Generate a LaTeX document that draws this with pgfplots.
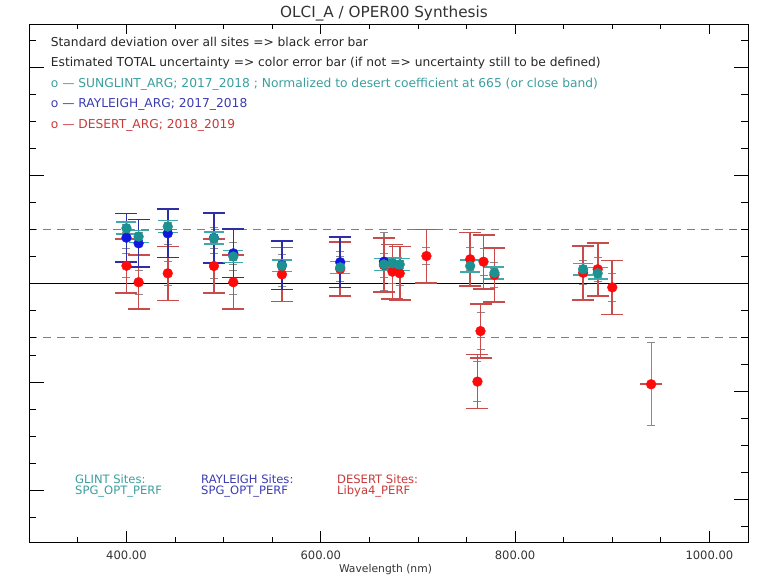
\documentclass[border=0pt]{standalone}
\usepackage{pgfplots}
\usepackage{pgfplotstable}
\pgfplotsset{compat=1.18}
\usepackage{fontspec}
\setmainfont{DejaVu Sans}

\definecolor{glint}{HTML}{1C9191}
\definecolor{glintbar}{HTML}{40A8A8}
\definecolor{glinttxt}{HTML}{3A9E9E}
\definecolor{ray}{HTML}{1018E0}
\definecolor{raybar}{HTML}{2E2EA6}
\definecolor{raytxt}{HTML}{3C3CB0}
\definecolor{des}{HTML}{FF0A0A}
\definecolor{desbar}{HTML}{C84C4C}
\definecolor{destxt}{HTML}{C83A3A}
\definecolor{stdbar}{HTML}{8A8A8A}

% wavelength, value, total uncertainty, std over sites
\pgfplotstableread{
wl val unc std
400 2.04 0.22 0.15
412.5 1.73 0.22 0.15
442.5 2.10 0.22 0.15
490 1.67 0.22 0.15
510 0.99 0.22 0.15
560 0.65 0.22 0.15
620 0.59 0.22 0.15
665 0.70 0.22 0.15
673.75 0.74 0.22 0.15
681.25 0.70 0.22 0.15
753.75 0.64 0.22 0.15
778.75 0.39 0.22 0.15
870 0.52 0.22 0.15
885 0.37 0.22 0.15
}\glinttab

\pgfplotstableread{
wl val unc std
400 1.69 0.90 0.40
412.5 1.48 0.88 0.40
442.5 1.85 0.90 0.40
490 1.68 0.92 0.40
510 1.11 0.90 0.40
560 0.67 0.90 0.40
620 0.78 0.93 0.40
}\raytab

% Rayleigh band without a total uncertainty
\pgfplotstableread{
wl val std
665 0.80 1.07
}\rayextra

\pgfplotstableread{
wl val unc std
400 0.65 1.00 0.45
412.5 0.04 1.00 0.45
442.5 0.37 1.00 0.45
490 0.64 1.00 0.45
510 0.04 1.00 0.45
560 0.33 1.00 0.45
620 0.53 1.00 0.45
665 0.67 1.00 0.45
673.75 0.43 1.01 0.45
681.25 0.37 0.99 0.45
708.75 1.01 0.99 0.33
753.75 0.89 0.99 0.45
761.25 -3.64 1.00 0.73
764.375 -1.77 1.00 0.70
767.5 0.80 1.00 0.50
778.75 0.31 1.00 0.45
870 0.39 1.00 0.45
885 0.52 0.98 0.45
900 -0.15 1.00 0.52
940 -3.74 0.00 1.53
}\destab

\pgfplotsset{
  frame/.style={at={(29.3bp,35bp)}, anchor=south west, scale only axis,
    width=719bp, height=518bp, xmin=300, xmax=1040, ymin=-9.581, ymax=9.604,
    axis line style={black, line width=0.9bp}, tick style={black, line width=0.9bp}},
  bars/.style n args={4}{only marks, mark=none, forget plot,
    error bars/.cd, y dir=both, y explicit,
    error bar style={draw=#1, line width=#2},
    error mark=-,
    error mark options={rotate=90, draw=#1, line width=#3, mark size=#4}},
  dots/.style={only marks, mark=*, mark size=4.9bp, mark options={draw=#1, fill=#1}},
}

\begin{document}
\begin{tikzpicture}[x=1bp, y=1bp]
\path[use as bounding box] (0,0) rectangle (761,577);

\begin{axis}[frame,
  xtick={400,600,800,1000},
  xticklabels={400.00,600.00,800.00,1000.00},
  minor xtick={350,450,500,550,650,700,750,850,900,950},
  ytick=\empty,
  major tick length=10.5bp, minor tick length=5bp,
  xticklabel style={font=\fontsize{11.6}{12}\selectfont, text=black!80, yshift=-5bp},
]
% reference levels
\addplot[black, line width=1bp, forget plot] coordinates {(300,0) (1040,0)};
\addplot[black!50, line width=0.9bp, dash pattern=on 8bp off 6bp, forget plot] coordinates {(300,2) (1040,2)};
\addplot[black!50, line width=0.9bp, dash pattern=on 8bp off 6bp, forget plot] coordinates {(300,-2) (1040,-2)};

% standard deviation over all sites
\addplot[bars={stdbar}{1.2bp}{1bp}{4bp}] table[x=wl, y=val, y error=std] {\destab};
\addplot[bars={stdbar}{1.2bp}{1bp}{4bp}] table[x=wl, y=val, y error=std] {\raytab};
\addplot[bars={stdbar}{1.8bp}{1bp}{4bp}] table[x=wl, y=val, y error=std] {\rayextra};
\addplot[bars={stdbar}{1.2bp}{1bp}{4bp}] table[x=wl, y=val, y error=std] {\glinttab};

% total uncertainty
\addplot[bars={desbar}{1.6bp}{1.6bp}{11bp}] table[x=wl, y=val, y error=unc] {\destab};
\addplot[bars={raybar}{1.5bp}{1.6bp}{11bp}] table[x=wl, y=val, y error=unc] {\raytab};
\addplot[bars={glintbar}{1.5bp}{1.6bp}{10bp}] table[x=wl, y=val, y error=unc] {\glinttab};

% measured points
\addplot[dots=des] table[x=wl, y=val] {\destab};
\addplot[dots=ray] table[x=wl, y=val] {\raytab};
\addplot[dots=ray] table[x=wl, y=val] {\rayextra};
\addplot[dots=glint] table[x=wl, y=val] {\glinttab};
\end{axis}

% left-hand ticks
\begin{axis}[frame, axis line style={draw=none},
  xtick=\empty, ytick pos=left, yticklabels={},
  ytick={8,4,0,-3.67,-7.67},
  minor ytick={9,7,6,5,3,2,1,-1,-2,-2.67,-4.67,-5.67,-6.67,-8.67},
  major tick length=14.7bp, minor tick length=7bp]
\end{axis}

% right-hand ticks
\begin{axis}[frame, axis line style={draw=none},
  xtick=\empty, ytick pos=right, yticklabels={},
  ytick={8,4,0,-4,-8},
  minor ytick={9,7,6,5,3,2,1,-1,-2,-3,-5,-6,-7,-9},
  major tick length=14.7bp, minor tick length=7bp]
\end{axis}

% title and axis label
\node[anchor=base, font=\fontsize{15.3}{17}\selectfont, text=black!80] at (384,559) {OLCI\_A / OPER00 Synthesis};
\node[anchor=base, font=\fontsize{10.8}{12}\selectfont, text=black!80] at (385.5,4.5) {Wavelength (nm)};

% explanatory lines
\begin{scope}[every node/.style={anchor=base west, inner sep=0pt, font=\fontsize{12.3}{14}\selectfont}]
\node[text=black!85] at (50.7,530.4) {Standard deviation over all sites => black error bar};
\node[text=black!85] at (50.7,510.4) {Estimated TOTAL uncertainty => color error bar (if not => uncertainty still to be defined)};
\node[text=glinttxt] at (50.7,489.7) {o --- SUNGLINT\_ARG; 2017\_2018 ; Normalized to desert coefficient at 665 (or close band)};
\node[text=raytxt] at (50.7,469.4) {o --- RAYLEIGH\_ARG; 2017\_2018};
\node[text=destxt] at (50.7,448.4) {o --- DESERT\_ARG; 2018\_2019};
\end{scope}

% site lists
\begin{scope}[every node/.style={anchor=base west, inner sep=0pt, font=\fontsize{11.6}{12}\selectfont}]
\node[text=glinttxt] at (75,93.5) {GLINT Sites:};
\node[text=glinttxt] at (75,82.5) {SPG\_OPT\_PERF};
\node[text=raytxt] at (201,93.5) {RAYLEIGH Sites:};
\node[text=raytxt] at (201,82.5) {SPG\_OPT\_PERF};
\node[text=destxt] at (337,93.5) {DESERT Sites:};
\node[text=destxt] at (337,82.5) {Libya4\_PERF};
\end{scope}
\end{tikzpicture}
\end{document}
